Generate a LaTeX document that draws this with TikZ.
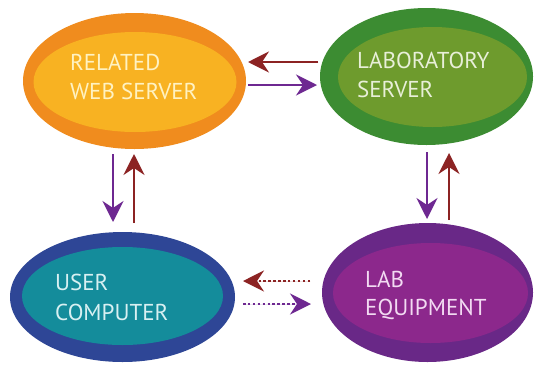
\documentclass[tikz,border=0pt]{standalone}
\usepackage{fontspec}
\setmainfont{PT Sans}
\usetikzlibrary{shapes.geometric,arrows.meta}
\definecolor{orgO}{HTML}{F08C1E}
\definecolor{orgI}{HTML}{F8B222}
\definecolor{orgT}{HTML}{FFF2C2}
\definecolor{grnO}{HTML}{3C8C32}
\definecolor{grnI}{HTML}{6E9B2D}
\definecolor{grnT}{HTML}{E8EFD8}
\definecolor{bluO}{HTML}{2E4696}
\definecolor{bluI}{HTML}{148C9B}
\definecolor{bluT}{HTML}{D8F0F2}
\definecolor{purO}{HTML}{692887}
\definecolor{purI}{HTML}{8C288C}
\definecolor{purT}{HTML}{F2DAF2}
\definecolor{arrRed}{HTML}{8C2323}
\definecolor{arrPur}{HTML}{6E2891}
\begin{document}
\begin{tikzpicture}[x=1pt,y=-1pt,
  blob/.style={ellipse, draw=none, inner sep=0pt, outer sep=0pt},
  lbl/.style={anchor=base west, inner sep=0pt, font=\fontsize{23}{27}\selectfont},
  flow/.style={line width=2.5pt, -{Stealth[length=21pt, width=21pt, inset=7pt]}},
  dotflow/.style={flow, dash pattern=on 2.5pt off 2.4pt},
]
\useasboundingbox (0,0) rectangle (534,367);
\fill[white] (0,0) rectangle (534,367);

% Related web server
\node[blob, fill=orgO, minimum width=223pt, minimum height=136pt] (rwsO) at (134.5,81) {};
\node[blob, fill=orgI, minimum width=203pt, minimum height=100pt] (rwsI) at (135,82) {};
\node[lbl, text=orgT] (rwsA) at (70,70) {RELATED};
\node[lbl, text=orgT] (rwsB) at (70,99) {WEB SERVER};

% Laboratory server
\node[blob, fill=grnO, minimum width=213pt, minimum height=137pt] (labO) at (426.5,76.5) {};
\node[blob, fill=grnI, minimum width=189pt, minimum height=100pt] (labI) at (432.5,77) {};
\node[lbl, text=grnT] (labA) at (357,68) {LABORATORY};
\node[lbl, text=grnT] (labB) at (357,97) {SERVER};

% User computer
\node[blob, fill=bluO, minimum width=225pt, minimum height=130pt] (ucO) at (122.5,297) {};
\node[blob, fill=bluI, minimum width=201pt, minimum height=98pt] (ucI) at (122.5,296) {};
\node[lbl, text=bluT] (ucA) at (55,290) {USER};
\node[lbl, text=bluT] (ucB) at (55,320) {COMPUTER};

% Lab equipment
\node[blob, fill=purO, minimum width=211pt, minimum height=139pt] (leO) at (427.5,292.5) {};
\node[blob, fill=purI, minimum width=195pt, minimum height=100pt] (leI) at (430.5,293) {};
\node[lbl, text=purT] (leA) at (365,287) {LAB};
\node[lbl, text=purT] (leB) at (365,315) {EQUIPMENT};

% arrow end points
\coordinate (tR1) at (318,62);  \coordinate (tR2) at (248,62);
\coordinate (tP1) at (248,85);  \coordinate (tP2) at (317,85);
\coordinate (lP1) at (113,154); \coordinate (lP2) at (113,222);
\coordinate (lR1) at (134,223); \coordinate (lR2) at (134,154);
\coordinate (rP1) at (427,152); \coordinate (rP2) at (427,219);
\coordinate (rR1) at (449,220); \coordinate (rR2) at (449,153);
\coordinate (bR1) at (310,281); \coordinate (bR2) at (243,281);
\coordinate (bP1) at (243,304); \coordinate (bP2) at (311,304);

\draw[flow, draw=arrRed, fill=arrRed] (tR1) -- (tR2);
\draw[flow, draw=arrPur, fill=arrPur] (tP1) -- (tP2);
\draw[flow, draw=arrPur, fill=arrPur] (lP1) -- (lP2);
\draw[flow, draw=arrRed, fill=arrRed] (lR1) -- (lR2);
\draw[flow, draw=arrPur, fill=arrPur] (rP1) -- (rP2);
\draw[flow, draw=arrRed, fill=arrRed] (rR1) -- (rR2);
\draw[dotflow, draw=arrRed, fill=arrRed] (bR1) -- (bR2);
\draw[dotflow, draw=arrPur, fill=arrPur] (bP1) -- (bP2);
\end{tikzpicture}
\end{document}
